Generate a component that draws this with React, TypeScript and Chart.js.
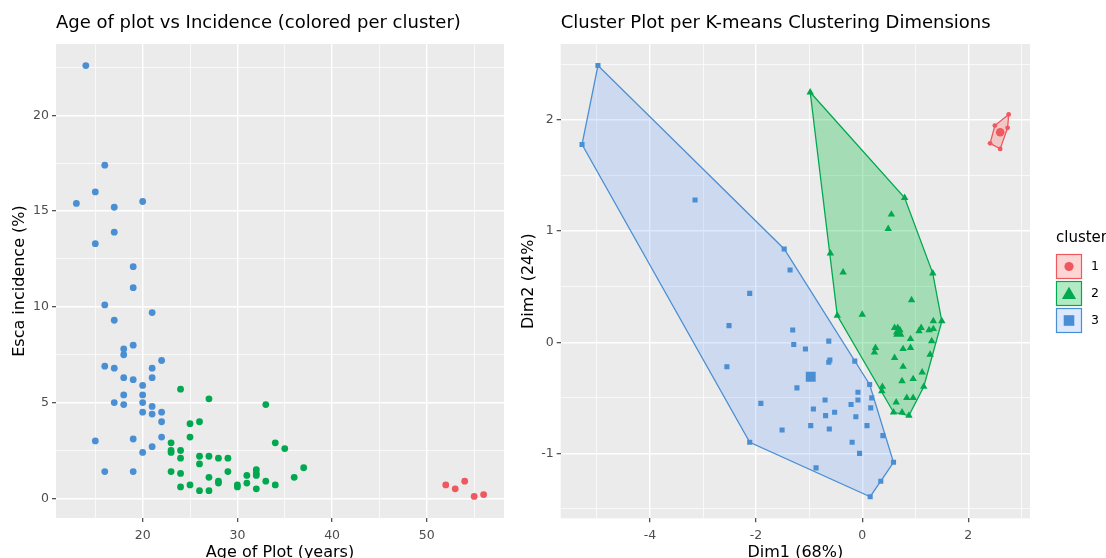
import React, { useEffect, useRef } from "react";
import { Chart, registerables } from "chart.js";

Chart.register(...registerables);

// ---------- DATA ----------
// Left panel: Age of plot (years) vs Esca incidence (%), per cluster
const ageC1 = [52, 53, 54, 55, 56];
const incC1 = [0.7, 0.5, 0.9, 0.1, 0.2];

const ageC2 = [24, 27, 33, 25, 26, 25, 34, 23, 23, 23, 24, 24, 26, 26, 27, 28, 29, 23, 24, 29, 27, 28, 28, 24, 25, 26, 27, 30, 30, 31, 31, 32, 32, 32, 32, 33, 34, 35, 36, 37];
const incC2 = [5.7, 5.2, 4.9, 3.9, 4.0, 3.2, 2.9, 2.9, 2.5, 2.4, 2.5, 2.1, 2.2, 1.8, 2.2, 2.1, 2.1, 1.4, 1.3, 1.4, 1.1, 0.9, 0.8, 0.6, 0.7, 0.4, 0.4, 0.7, 0.6, 1.2, 0.8, 1.5, 1.3, 1.2, 0.5, 0.9, 0.7, 2.6, 1.1, 1.6];

const ageC3 = [14, 16, 15, 13, 17, 20, 17, 15, 19, 19, 16, 21, 17, 19, 18, 18, 22, 16, 17, 21, 18, 19, 21, 20, 20, 18, 17, 20, 18, 21, 20, 22, 21, 22, 22, 19, 15, 21, 20, 16, 19];
const incC3 = [22.6, 17.4, 16.0, 15.4, 15.2, 15.5, 13.9, 13.3, 12.1, 11.0, 10.1, 9.7, 9.3, 8.0, 7.8, 7.5, 7.2, 6.9, 6.8, 6.8, 6.3, 6.2, 6.3, 5.9, 5.4, 5.4, 5.0, 5.0, 4.9, 4.8, 4.5, 4.5, 4.4, 4.0, 3.2, 3.1, 3.0, 2.7, 2.4, 1.4, 1.4];

// Right panel: K-means cluster plot on PCA dimensions
const dim1C1 = [2.76, 2.50, 2.74, 2.41, 2.60];
const dim2C1 = [2.05, 1.95, 1.93, 1.79, 1.74];

const dim1C2 = [-0.98, 0.80, 0.55, 0.49, -0.60, -0.36, 1.33, 0.93, -0.47, 0.00, 1.50, 1.34, 1.11, 1.26, 1.34, 0.61, 0.67, 0.71, 0.65, 1.07, 0.91, 1.31, 0.25, 0.23, 0.77, 0.91, 0.61, 1.28, 0.77, 1.13, 0.96, 0.75, 1.16, 0.38, 0.37, 0.64, 0.84, 0.96, 0.59, 0.75, 0.88];
const dim2C2 = [2.25, 1.30, 1.15, 1.02, 0.80, 0.63, 0.62, 0.38, 0.24, 0.25, 0.19, 0.19, 0.13, 0.11, 0.12, 0.13, 0.13, 0.11, 0.09, 0.10, 0.03, 0.01, -0.05, -0.09, -0.06, -0.05, -0.14, -0.11, -0.22, -0.27, -0.33, -0.35, -0.40, -0.40, -0.44, -0.54, -0.50, -0.50, -0.63, -0.63, -0.66];

const dim1C3 = [-4.98, -5.28, -3.15, -1.47, -1.36, -2.12, -2.51, -1.31, -1.29, -1.07, -2.55, -1.23, -1.91, -0.92, -1.51, -0.97, -2.12, -0.87, -0.63, -0.61, -0.63, -0.14, 0.14, -0.08, -0.08, 0.18, -0.70, -0.21, 0.16, -0.52, -0.69, -0.12, -0.62, 0.09, 0.39, -0.19, -0.05, 0.59, 0.35, 0.15];
const dim2C3 = [2.49, 1.78, 1.28, 0.84, 0.65, 0.44, 0.15, 0.11, -0.02, -0.06, -0.22, -0.41, -0.55, -0.60, -0.79, -0.75, -0.90, -1.13, 0.01, -0.16, -0.18, -0.17, -0.38, -0.45, -0.52, -0.50, -0.52, -0.56, -0.59, -0.63, -0.66, -0.67, -0.78, -0.75, -0.84, -0.90, -1.00, -1.08, -1.25, -1.39];

const centroidDim1 = [2.60, 0.69, -0.97];
const centroidDim2 = [1.89, 0.08, -0.31];

const clusterLabels = ["1", "2", "3"];

// Tick values
const ageMajorTicks = [20, 30, 40, 50];
const ageMinorTicks = [15, 25, 35, 45, 55];
const incMajorTicks = [0, 5, 10, 15, 20];
const incMinorTicks = [2.5, 7.5, 12.5, 17.5, 22.5];
const dim1MajorTicks = [-4, -2, 0, 2];
const dim1MinorTicks = [-5, -3, -1, 1, 3];
const dim2MajorTicks = [-1, 0, 1, 2];
const dim2MinorTicks = [-1.5, -0.5, 0.5, 1.5, 2.5];

// ---------- STYLE ----------
const FONT = "'DejaVu Sans', sans-serif";
const RED = "#F0585F";
const GREEN = "#00A84F";
const BLUE = "#4A8FD3";
const RED_FILL = "rgba(248,118,109,0.30)";
const GREEN_FILL = "rgba(0,186,56,0.30)";
const BLUE_FILL = "rgba(97,156,255,0.22)";
const TICK_SIZE = 12.5;
const AXIS_TITLE_SIZE = 16;
const TITLE_SIZE = 18;

function pts(xs: number[], ys: number[]) {
  return xs.map((x, i) => ({ x, y: ys[i] }));
}

function expanded(values: number[]) {
  const mn = Math.min(...values);
  const mx = Math.max(...values);
  const pad = (mx - mn) * 0.05;
  return { min: mn - pad, max: mx + pad };
}

function convexHull(xs: number[], ys: number[]) {
  const p = pts(xs, ys).sort((a, b) => a.x - b.x || a.y - b.y);
  const cross = (o: any, a: any, b: any) => (a.x - o.x) * (b.y - o.y) - (a.y - o.y) * (b.x - o.x);
  const lower: any[] = [];
  for (const q of p) {
    while (lower.length >= 2 && cross(lower[lower.length - 2], lower[lower.length - 1], q) <= 0) lower.pop();
    lower.push(q);
  }
  const upper: any[] = [];
  for (let i = p.length - 1; i >= 0; i--) {
    const q = p[i];
    while (upper.length >= 2 && cross(upper[upper.length - 2], upper[upper.length - 1], q) <= 0) upper.pop();
    upper.push(q);
  }
  upper.pop();
  lower.pop();
  const h = lower.concat(upper);
  h.push(h[0]);
  return h;
}

function axis(pos: "left" | "bottom", range: { min: number; max: number }, majors: number[], minors: number[], fit: number, titleText: string, titlePad: any) {
  const all = [...majors, ...minors].sort((a, b) => a - b);
  const isMajor = (v: any) => majors.includes(v);
  return {
    type: "linear",
    position: pos,
    min: range.min,
    max: range.max,
    afterBuildTicks: (s: any) => {
      s.ticks = all.map((v) => ({ value: v }));
    },
    afterFit: (s: any) => {
      if (pos === "left") s.width = fit;
      else s.height = fit;
    },
    ticks: {
      autoSkip: false,
      maxRotation: 0,
      minRotation: 0,
      padding: pos === "left" ? 3 : 6,
      color: "#4D4D4D",
      font: { family: FONT, size: TICK_SIZE },
      callback: (v: any) => (isMajor(v) ? String(v) : ""),
    },
    grid: {
      color: "#FFFFFF",
      lineWidth: (c: any) => (c.tick && isMajor(c.tick.value) ? 1.4 : 0.7),
      drawTicks: true,
      tickLength: 4,
      tickWidth: 1.1,
      tickColor: (c: any) => (c.tick && isMajor(c.tick.value) ? "#333333" : "rgba(0,0,0,0)"),
    },
    border: { display: false },
    title: {
      display: true,
      text: titleText,
      color: "#000000",
      font: { family: FONT, size: AXIS_TITLE_SIZE },
      padding: titlePad,
    },
  };
}

const panelBg = {
  id: "panelBg",
  beforeDraw(chart: any) {
    const { ctx, chartArea } = chart;
    ctx.save();
    ctx.fillStyle = "#EBEBEB";
    ctx.fillRect(chartArea.left, chartArea.top, chartArea.right - chartArea.left, chartArea.bottom - chartArea.top);
    ctx.restore();
  },
};

const clusterLegend = {
  id: "clusterLegend",
  afterDraw(chart: any) {
    const ctx = chart.ctx;
    const x0 = 546;
    ctx.save();
    ctx.fillStyle = "#000";
    ctx.font = `${AXIS_TITLE_SIZE - 1}px ${FONT}`;
    ctx.textBaseline = "middle";
    ctx.textAlign = "left";
    ctx.fillText("cluster", x0, 238.5);
    const cols = [RED, GREEN, BLUE];
    const fills = [RED_FILL, GREEN_FILL, BLUE_FILL];
    for (let i = 0; i < 3; i++) {
      const top = 254 + 27 * i;
      ctx.fillStyle = "#FFFFFF";
      ctx.fillRect(x0, top, 26, 25);
      ctx.fillStyle = fills[i];
      ctx.fillRect(x0, top, 26, 25);
      ctx.strokeStyle = cols[i];
      ctx.lineWidth = 1.2;
      ctx.strokeRect(x0 + 0.5, top + 0.5, 25, 24);
      const cx = x0 + 13;
      const cy = top + 12.5;
      ctx.fillStyle = cols[i];
      ctx.beginPath();
      if (i === 0) {
        ctx.arc(cx, cy, 4.6, 0, Math.PI * 2);
      } else if (i === 1) {
        const r = 8.2;
        ctx.moveTo(cx, cy - r + 1.5);
        ctx.lineTo(cx + r * 0.866, cy + r * 0.5 + 1.5);
        ctx.lineTo(cx - r * 0.866, cy + r * 0.5 + 1.5);
        ctx.closePath();
      } else {
        ctx.rect(cx - 5.3, cy - 5.3, 10.6, 10.6);
      }
      ctx.fill();
      ctx.fillStyle = "#000";
      ctx.font = `${TICK_SIZE}px ${FONT}`;
      ctx.fillText(clusterLabels[i], 581, cy);
    }
    ctx.restore();
  },
};

function scatterSet(data: any[], color: string, style: string, radius: number, order = 1) {
  return {
    data,
    pointStyle: style,
    pointRadius: radius,
    pointHoverRadius: radius,
    backgroundColor: color,
    borderColor: color,
    pointBackgroundColor: color,
    pointBorderColor: color,
    pointBorderWidth: 0,
    borderWidth: 0,
    showLine: false,
    order,
  };
}

function hullSet(xs: number[], ys: number[], color: string, fillColor: string) {
  return {
    data: convexHull(xs, ys),
    showLine: true,
    fill: "shape",
    backgroundColor: fillColor,
    borderColor: color,
    borderWidth: 1.3,
    pointRadius: 0,
    pointHoverRadius: 0,
    tension: 0,
    order: 10,
  };
}

function titleOpts(text: string) {
  return {
    display: true,
    text,
    align: "start",
    fullSize: false,
    color: "#000000",
    font: { family: FONT, size: TITLE_SIZE, weight: "normal" },
    padding: { top: 13, bottom: 9.4 },
  };
}

function leftConfig(): any {
  const xr = expanded([...ageC1, ...ageC2, ...ageC3]);
  const yr = expanded([...incC1, ...incC2, ...incC3]);
  return {
    type: "scatter",
    data: {
      datasets: [
        scatterSet(pts(ageC1, incC1), RED, "circle", 3.4),
        scatterSet(pts(ageC2, incC2), GREEN, "circle", 3.4),
        scatterSet(pts(ageC3, incC3), BLUE, "circle", 3.4),
      ],
    },
    options: {
      responsive: false,
      animation: false,
      devicePixelRatio: 1,
      events: [],
      layout: { padding: { left: 0, right: 6, top: 0, bottom: 0 } },
      plugins: {
        legend: { display: false },
        tooltip: { enabled: false },
        title: titleOpts("Age of plot vs Incidence (colored per cluster)"),
      },
      scales: {
        x: axis("bottom", xr, ageMajorTicks, ageMinorTicks, 40, "Age of Plot (years)", { top: 0, bottom: -4 }),
        y: axis("left", yr, incMajorTicks, incMinorTicks, 56, "Esca incidence (%)", { top: 10, bottom: 0 }),
      },
    },
    plugins: [panelBg],
  };
}

function rightConfig(): any {
  const xr = expanded([...dim1C1, ...dim1C2, ...dim1C3]);
  const yr = expanded([...dim2C1, ...dim2C2, ...dim2C3]);
  return {
    type: "scatter",
    data: {
      datasets: [
        hullSet(dim1C1, dim2C1, RED, RED_FILL),
        hullSet(dim1C2, dim2C2, GREEN, GREEN_FILL),
        hullSet(dim1C3, dim2C3, BLUE, BLUE_FILL),
        scatterSet(pts(dim1C1, dim2C1), RED, "circle", 2.4),
        scatterSet(pts(dim1C2, dim2C2), GREEN, "triangle", 4.3),
        scatterSet(pts(dim1C3, dim2C3), BLUE, "rect", 3.6),
        scatterSet([{ x: centroidDim1[0], y: centroidDim2[0] }], RED, "circle", 4.3),
        scatterSet([{ x: centroidDim1[1], y: centroidDim2[1] }], GREEN, "triangle", 6.5),
        scatterSet([{ x: centroidDim1[2], y: centroidDim2[2] }], BLUE, "rect", 7),
      ],
    },
    options: {
      responsive: false,
      animation: false,
      devicePixelRatio: 1,
      events: [],
      layout: { padding: { left: 0, right: 76, top: 0, bottom: 0 } },
      plugins: {
        legend: { display: false },
        tooltip: { enabled: false },
        title: titleOpts("Cluster Plot per K-means Clustering Dimensions"),
      },
      scales: {
        x: axis("bottom", xr, dim1MajorTicks, dim1MinorTicks, 39.7, "Dim1 (68%)", { top: 0, bottom: -4 }),
        y: axis("left", yr, dim2MajorTicks, dim2MinorTicks, 50.7, "Dim2 (24%)", { top: 9, bottom: 0 }),
      },
    },
    plugins: [panelBg, clusterLegend],
  };
}

export default function App() {
  const leftRef = useRef<HTMLCanvasElement>(null);
  const rightRef = useRef<HTMLCanvasElement>(null);
  useEffect(() => {
    const c1 = new Chart(leftRef.current as HTMLCanvasElement, leftConfig());
    const c2 = new Chart(rightRef.current as HTMLCanvasElement, rightConfig());
    return () => {
      c1.destroy();
      c2.destroy();
    };
  }, []);
  return (
    <div style={{ position: "fixed", left: 0, top: 0, width: 1106, height: 558, background: "#FFFFFF", overflow: "hidden" }}>
      <canvas ref={leftRef} width={510} height={558} style={{ position: "absolute", left: 0, top: 0, width: 510, height: 558 }} />
      <canvas ref={rightRef} width={596} height={558} style={{ position: "absolute", left: 510, top: 0, width: 596, height: 558 }} />
    </div>
  );
}
